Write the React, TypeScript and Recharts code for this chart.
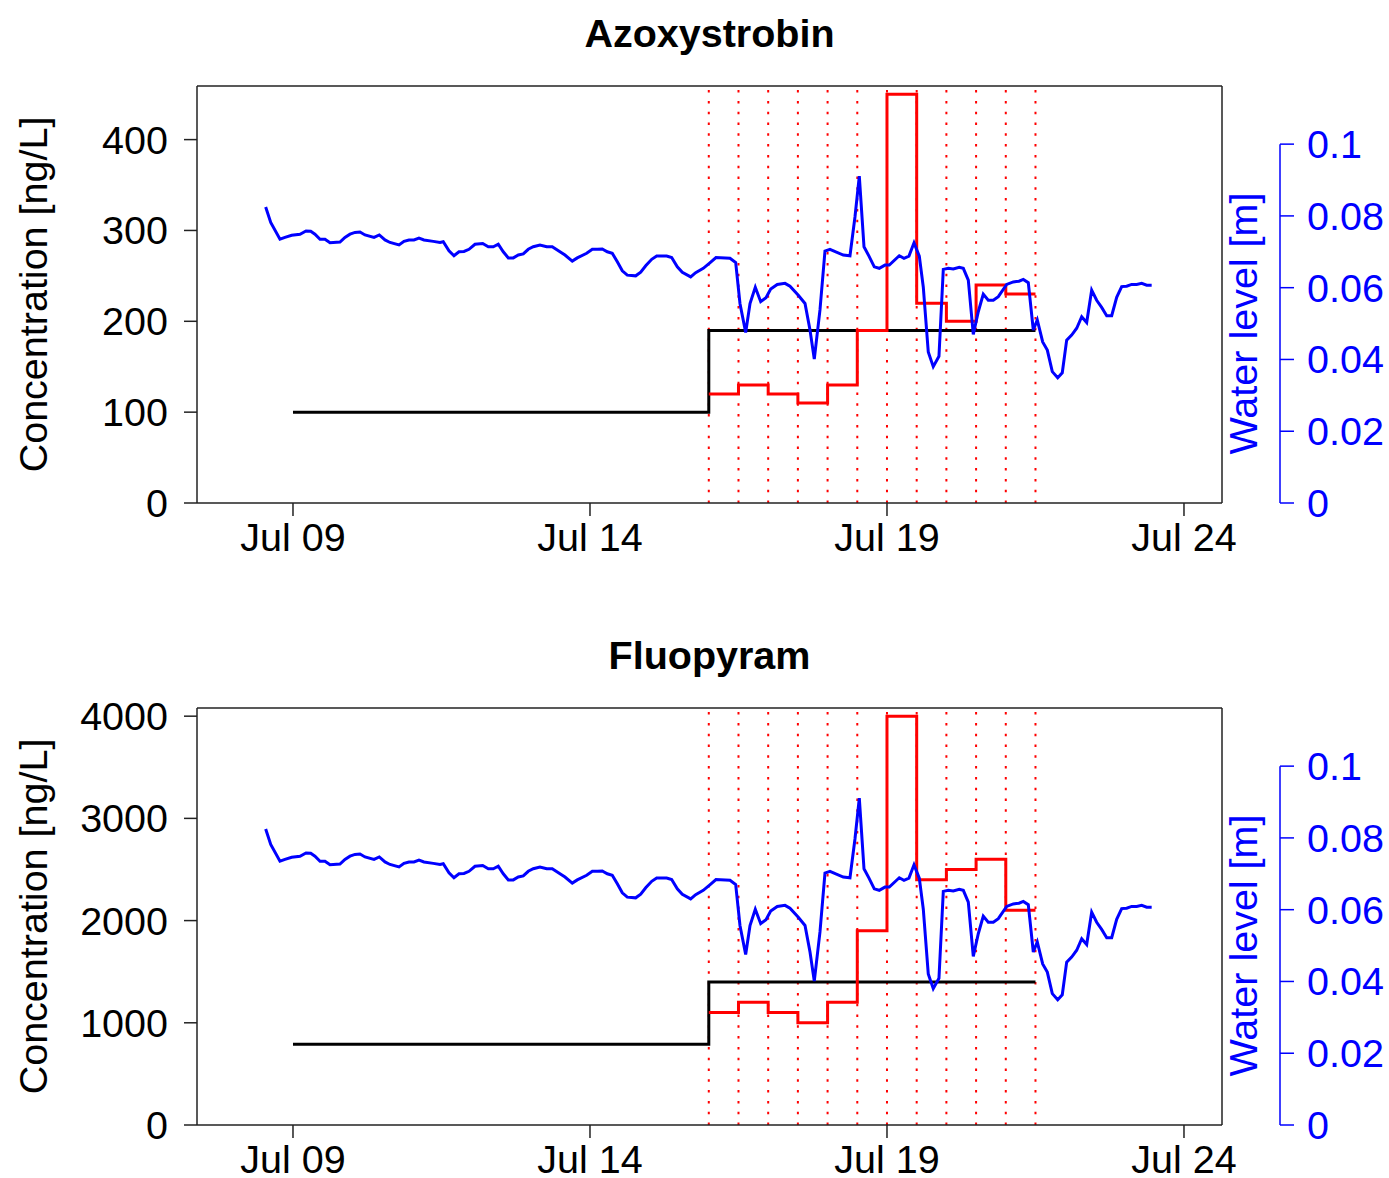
import React from "react"
import { ComposedChart, Line, XAxis, YAxis, ReferenceLine } from "recharts"

// time axis: day of July
const dayTicks = [9, 14, 19, 24]
const dayLabels: Record<number, string> = { 9: "Jul 09", 14: "Jul 14", 19: "Jul 19", 24: "Jul 24" }

// composite samples (red steps) and dotted markers
const samplingDays = [16, 16.5, 17, 17.5, 18, 18.5, 19, 19.5, 20, 20.5, 21, 21.5]
const azoxyMeasured = [120, 130, 120, 110, 130, 190, 450, 220, 200, 240, 230, 230]
const fluoMeasured = [1100, 1200, 1100, 1000, 1200, 1900, 4000, 2400, 2500, 2600, 2100, 2100]

// black reference level
const refDays = [9, 16, 21.5]
const azoxyRef = [100, 190, 190]
const fluoRef = [790, 1400, 1400]

const azoxyTicks = [0, 100, 200, 300, 400]
const fluoTicks = [0, 1000, 2000, 3000, 4000]
const waterTicks = [0, 0.02, 0.04, 0.06, 0.08, 0.1]

// water level [m]
const waterDays = [
  8.54, 8.625, 8.781, 8.865, 8.978, 9.118, 9.219, 9.298, 9.37, 9.455,
  9.539, 9.623, 9.791, 9.875, 9.96, 10.044, 10.128, 10.212, 10.364, 10.453,
  10.549, 10.633, 10.785, 10.869, 10.953, 11.037, 11.121, 11.205, 11.362, 11.475,
  11.53, 11.626, 11.71, 11.795, 11.879, 11.963, 12.064, 12.194, 12.288, 12.372,
  12.456, 12.54, 12.625, 12.709, 12.793, 12.877, 12.961, 13.045, 13.158, 13.271,
  13.365, 13.449, 13.579, 13.702, 13.786, 13.944, 14.039, 14.123, 14.207, 14.291,
  14.375, 14.46, 14.544, 14.628, 14.769, 14.854, 14.938, 15.039, 15.123, 15.291,
  15.375, 15.47, 15.554, 15.695, 15.779, 15.907, 16.008, 16.121, 16.357, 16.453,
  16.525, 16.621, 16.694, 16.783, 16.874, 16.963, 17.042, 17.153, 17.283, 17.367,
  17.507, 17.62, 17.704, 17.776, 17.872, 17.956, 18.04, 18.264, 18.377, 18.461,
  18.534, 18.613, 18.697, 18.786, 18.87, 18.966, 19.039, 19.207, 19.286, 19.37,
  19.455, 19.544, 19.611, 19.695, 19.779, 19.875, 19.948, 20.032, 20.116, 20.217,
  20.285, 20.369, 20.453, 20.537, 20.621, 20.705, 20.79, 20.874, 21.015, 21.126,
  21.222, 21.295, 21.379, 21.463, 21.53, 21.621, 21.699, 21.783, 21.874, 21.951,
  22.025, 22.109, 22.194, 22.278, 22.362, 22.446, 22.53, 22.614, 22.699, 22.783,
  22.867, 22.951, 23.035, 23.119, 23.204, 23.288, 23.372, 23.456,
]
const waterLevels = [
  0.0825, 0.0782, 0.0735, 0.074, 0.0746, 0.0749, 0.0758, 0.0757, 0.0749, 0.0735,
  0.0735, 0.0725, 0.0727, 0.074, 0.0749, 0.0754, 0.0755, 0.0747, 0.074, 0.0747,
  0.0733, 0.0726, 0.0719, 0.0729, 0.0733, 0.0733, 0.0738, 0.0733, 0.0729, 0.0726,
  0.0728, 0.0703, 0.0689, 0.07, 0.0701, 0.0707, 0.0721, 0.0723, 0.0714, 0.0714,
  0.0721, 0.07, 0.0683, 0.0683, 0.0691, 0.0694, 0.0707, 0.0714, 0.0719, 0.0714,
  0.0714, 0.0705, 0.0691, 0.0674, 0.0683, 0.0696, 0.0707, 0.0707, 0.0708, 0.07,
  0.0696, 0.0672, 0.0647, 0.0635, 0.0633, 0.0643, 0.0661, 0.0679, 0.0688, 0.0688,
  0.0684, 0.0658, 0.0643, 0.063, 0.0642, 0.0654, 0.0668, 0.0684, 0.0682, 0.067,
  0.0556, 0.0475, 0.0556, 0.0601, 0.0561, 0.0572, 0.0596, 0.0609, 0.0612, 0.0604,
  0.0579, 0.0556, 0.0482, 0.0401, 0.0538, 0.0702, 0.0707, 0.0691, 0.0689, 0.0797,
  0.0911, 0.0714, 0.0688, 0.0658, 0.0654, 0.0663, 0.0663, 0.0689, 0.0682, 0.0688,
  0.0725, 0.0688, 0.0602, 0.0421, 0.038, 0.0409, 0.0651, 0.0654, 0.0652, 0.0657,
  0.0654, 0.0621, 0.047, 0.0533, 0.0582, 0.0565, 0.0565, 0.0575, 0.0609, 0.0616,
  0.0618, 0.0623, 0.0614, 0.0482, 0.051, 0.0449, 0.0426, 0.0366, 0.0349, 0.0363,
  0.0454, 0.0468, 0.0487, 0.0519, 0.0503, 0.0593, 0.0565, 0.0545, 0.0522, 0.0522,
  0.0573, 0.0603, 0.0604, 0.0609, 0.0609, 0.0612, 0.0607, 0.0607,
]

const W = 1389
const H = 600
const TOP = 86
const PLOT_H = 417
const FS = 39.5
const FONT = "'Liberation Sans', Arial, sans-serif"
const X_DOMAIN: [number, number] = [7.384, 24.64]
const WL_MAX = 0.1162
const R_TICK = 14
const R_MARGIN = 13
const BLUE = "#0000ff"
const BOX = "#222"

const waterData = waterDays.map((d, i) => ({ d, wl: waterLevels[i] }))

function WaterTick(props: any) {
  const { x, y, payload } = props
  const v = payload.value
  const axisX = x - R_TICK - R_MARGIN
  const top = waterTicks[waterTicks.length - 1]
  return (
    <g>
      {v === top && (
        <line x1={axisX} x2={axisX} y1={y} y2={y + (PLOT_H * v) / WL_MAX} stroke={BLUE} strokeWidth={1.5} />
      )}
      <text x={x} y={y} dy="0.355em" textAnchor="start" fill={BLUE} fontSize={FS}>
        {v === 0 ? "0" : String(v)}
      </text>
    </g>
  )
}

interface PanelProps {
  title: string
  measured: number[]
  reference: number[]
  concTicks: number[]
  concMax: number
  offsetY: number
}

function Panel({ title, measured, reference, concTicks, concMax, offsetY }: PanelProps) {
  const measuredData = samplingDays.map((d, i) => ({ d, c: measured[i] }))
  const refData = refDays.map((d, i) => ({ d, c: reference[i] }))
  return (
    <div style={{ position: "absolute", left: 0, top: offsetY, width: W, height: H }}>
      <ComposedChart width={W} height={H} margin={{ top: TOP - 1, right: 0, bottom: 0, left: 0 }}>
        <XAxis
          xAxisId="t"
          type="number"
          dataKey="d"
          domain={X_DOMAIN}
          ticks={dayTicks}
          interval={0}
          tickFormatter={(v: number) => dayLabels[v] ?? ""}
          height={H - TOP - PLOT_H}
          tickSize={13}
          tickMargin={7}
          tick={{ fill: "#000", fontSize: FS }}
          axisLine={{ stroke: BOX, strokeWidth: 1.5 }}
          tickLine={{ stroke: BOX, strokeWidth: 1.5 }}
          allowDataOverflow
        />
        <XAxis
          xAxisId="frame"
          orientation="top"
          type="number"
          domain={X_DOMAIN}
          height={1}
          tick={false}
          tickLine={false}
          axisLine={{ stroke: BOX, strokeWidth: 1.5 }}
        />
        <YAxis
          yAxisId="c"
          type="number"
          domain={[0, concMax]}
          ticks={concTicks}
          interval={0}
          width={197}
          tickSize={13}
          tickMargin={16}
          tick={{ fill: "#000", fontSize: FS }}
          axisLine={{ stroke: BOX, strokeWidth: 1.5 }}
          tickLine={{ stroke: BOX, strokeWidth: 1.5 }}
          allowDataOverflow
        />
        <YAxis
          yAxisId="frame"
          orientation="right"
          type="number"
          domain={[0, 1]}
          width={58}
          tick={false}
          tickLine={false}
          axisLine={{ stroke: BOX, strokeWidth: 1.5 }}
        />
        <YAxis
          yAxisId="wl"
          orientation="right"
          type="number"
          domain={[0, WL_MAX]}
          ticks={waterTicks}
          interval={0}
          width={W - 197 - 1025 - 58}
          tickSize={R_TICK}
          tickMargin={R_MARGIN}
          tick={<WaterTick />}
          axisLine={false}
          tickLine={{ stroke: BLUE, strokeWidth: 1.5 }}
          allowDataOverflow
        />
        {samplingDays.map((d) => (
          <ReferenceLine
            key={d}
            xAxisId="t"
            yAxisId="c"
            x={d}
            stroke="#ff0000"
            strokeWidth={2}
            strokeDasharray="2.5 8.3"
          />
        ))}
        <Line
          xAxisId="t"
          yAxisId="c"
          data={refData}
          dataKey="c"
          type="stepAfter"
          stroke="#000"
          strokeWidth={3}
          dot={false}
          activeDot={false}
          isAnimationActive={false}
        />
        <Line
          xAxisId="t"
          yAxisId="c"
          data={measuredData}
          dataKey="c"
          type="stepAfter"
          stroke="#ff0000"
          strokeWidth={3}
          dot={false}
          activeDot={false}
          isAnimationActive={false}
        />
        <Line
          xAxisId="t"
          yAxisId="wl"
          data={waterData}
          dataKey="wl"
          type="linear"
          stroke={BLUE}
          strokeWidth={3}
          dot={false}
          activeDot={false}
          isAnimationActive={false}
        />
      </ComposedChart>
      <svg
        width={W}
        height={H}
        style={{ position: "absolute", left: 0, top: 0, pointerEvents: "none", fontFamily: FONT }}
      >
        <text x={709.5} y={TOP - 39} textAnchor="middle" fontSize={FS} fontWeight="bold" fill="#000">
          {title}
        </text>
        <text
          x={47}
          y={TOP + PLOT_H / 2}
          transform={`rotate(-90 47 ${TOP + PLOT_H / 2})`}
          textAnchor="middle"
          fontSize={FS}
          fill="#000"
        >
          Concentration [ng/L]
        </text>
        <text
          x={1257}
          y={323.5}
          transform="rotate(-90 1257 323.5)"
          textAnchor="middle"
          fontSize={FS}
          fill={BLUE}
        >
          Water level [m]
        </text>
      </svg>
    </div>
  )
}

export default function App() {
  return (
    <div
      style={{
        position: "absolute",
        left: 0,
        top: 0,
        width: W,
        height: 1178,
        overflow: "hidden",
        background: "#fff",
        fontFamily: FONT,
      }}
    >
      <Panel title="Azoxystrobin" measured={azoxyMeasured} reference={azoxyRef} concTicks={azoxyTicks} concMax={459} offsetY={0} />
      <Panel title="Fluopyram" measured={fluoMeasured} reference={fluoRef} concTicks={fluoTicks} concMax={4080} offsetY={622} />
    </div>
  )
}
